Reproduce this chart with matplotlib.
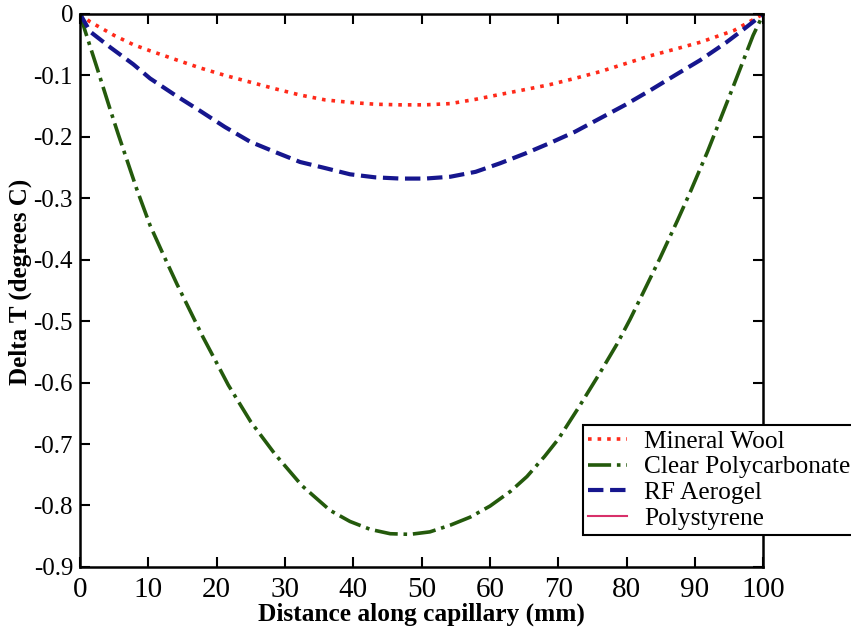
import numpy as np
import matplotlib
matplotlib.use('Agg')
import matplotlib.pyplot as plt

plt.rcParams['font.family'] = 'Liberation Serif'
plt.rcParams['axes.unicode_minus'] = False

# values (distance in mm, delta T in degrees C)
wool_x = [0, 1.5, 5, 7.8, 10.25, 13.9, 17.6, 21.2, 24.9, 28.6, 32.2, 35.9, 39.5, 43.2, 46.9,
          50.5, 54.2, 57.9, 61.5, 65.2, 68.8, 72.4, 76.1, 79.8, 83.5, 87.2, 90.8, 95.7, 100]
wool_y = [0, -0.013, -0.035, -0.05, -0.06, -0.074, -0.088, -0.1, -0.111, -0.122, -0.132, -0.14,
          -0.144, -0.147, -0.148, -0.148, -0.146, -0.139, -0.131, -0.123, -0.115, -0.105, -0.094,
          -0.081, -0.068, -0.057, -0.046, -0.027, 0]

poly_x = [0, 0.7, 2.5, 4.4, 5.6, 6.3, 8.3, 10.25, 12.2, 14.2, 16.1, 18, 20, 21.7, 25, 28.5, 32.5,
          36.6, 39.5, 42.5, 45.4, 48.3, 51.2, 54.2, 57.1, 60, 63, 65.4, 68, 70, 73, 76.1, 78.6,
          80.5, 82.4, 84.9, 87.4, 89.3, 91.8, 93.3, 95.6, 98.5, 100]
poly_y = [0, -0.026, -0.088, -0.155, -0.196, -0.219, -0.285, -0.344, -0.392, -0.44, -0.483, -0.526,
          -0.568, -0.604, -0.664, -0.716, -0.768, -0.808, -0.826, -0.839, -0.846, -0.847, -0.843,
          -0.832, -0.819, -0.801, -0.777, -0.753, -0.72, -0.692, -0.64, -0.584, -0.537, -0.497,
          -0.454, -0.397, -0.337, -0.29, -0.225, -0.183, -0.118, -0.035, 0]

aero_x = [0, 1.5, 4.5, 7.8, 10.25, 13.9, 17.6, 21.2, 24.9, 28.6, 32.2, 35.9, 39.5, 43.2, 46.9,
          50.5, 54.2, 57.9, 61.5, 65.2, 68.8, 72.4, 76.1, 79.8, 83.5, 87.2, 90.8, 94.5, 97, 100]
aero_y = [0, -0.029, -0.055, -0.082, -0.105, -0.132, -0.158, -0.184, -0.208, -0.225, -0.241,
          -0.251, -0.261, -0.266, -0.268, -0.268, -0.265, -0.257, -0.243, -0.227, -0.21, -0.192,
          -0.17, -0.148, -0.124, -0.099, -0.075, -0.047, -0.026, 0]

styr_x = [0, 100]
styr_y = [0, 0]

fig = plt.figure(figsize=(8.51, 6.32), dpi=100)
ax = fig.add_axes([0.094, 0.103, 0.803, 0.875])

ax.plot(wool_x, wool_y, ':', color='#ff2a1a', lw=2.6, label='Mineral Wool')
ax.plot(poly_x, poly_y, '-.', color='#245a0c', lw=2.6, label='Clear Polycarbonate')
ax.plot(aero_x, aero_y, '--', color='#16168e', lw=3.0, label='RF Aerogel')
ax.plot(styr_x, styr_y, '-', color='#d8306a', lw=1.5, label='Polystyrene', zorder=1)

ax.set_xlim(0, 100)
ax.set_ylim(-0.9, 0)
ax.set_xticks(np.arange(0, 101, 10))
ax.set_yticks(np.arange(-0.9, 0.01, 0.1))
ax.set_yticklabels(['-0.9', '-0.8', '-0.7', '-0.6', '-0.5', '-0.4', '-0.3', '-0.2', '-0.1', '0'])
ax.tick_params(direction='in', top=True, right=True, length=7, width=1.5)
ax.tick_params(axis='x', labelsize=21, pad=7)
ax.tick_params(axis='y', labelsize=18, pad=5)
for s in ax.spines.values():
    s.set_linewidth(1.8)
    s.set_zorder(5)

ax.set_xlabel('Distance along capillary (mm)', fontsize=18.3, fontweight='bold', labelpad=0)
ax.set_ylabel('Delta T (degrees C)', fontsize=18, fontweight='bold')
ax.yaxis.set_label_coords(-0.07, 0.515)

leg = ax.legend(loc='upper left', bbox_to_anchor=(0.685, 0.328), bbox_transform=fig.transFigure,
                fontsize=18.3, frameon=True, fancybox=False, edgecolor='black', framealpha=1,
                handlelength=1.55, borderpad=0.2, labelspacing=0.12, handletextpad=0.66,
                borderaxespad=0)
leg.get_frame().set_linewidth(1.5)
leg.set_zorder(10)

fig.savefig('out.png', dpi=100)
